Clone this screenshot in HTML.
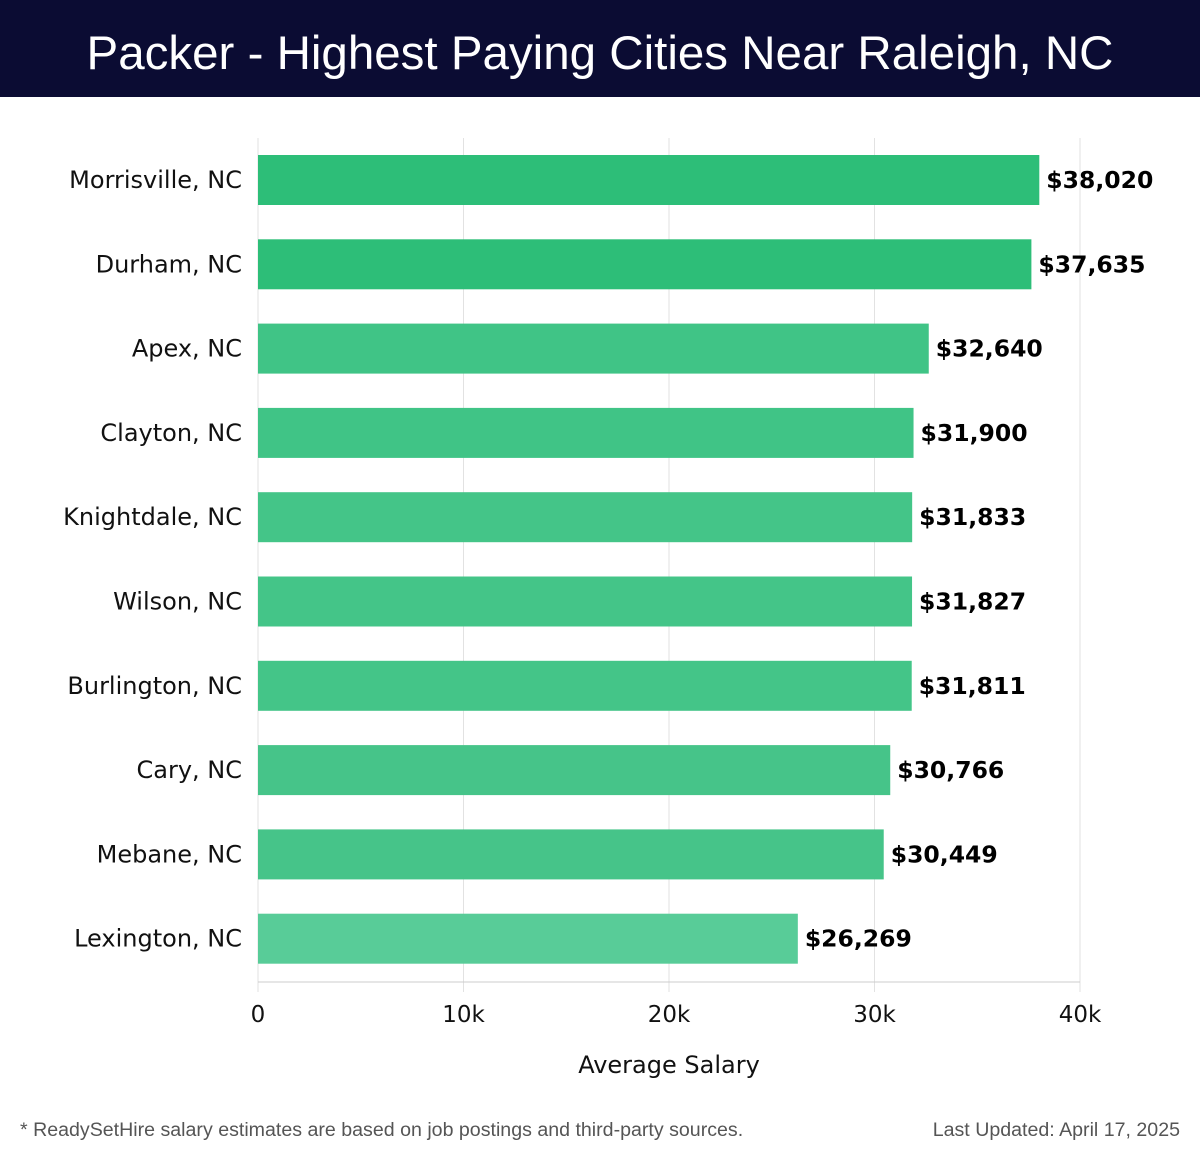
<!DOCTYPE html>
<html><head><meta charset="utf-8"><style>
body{margin:0;width:1200px;height:1158px;background:#fff;font-family:"Liberation Sans","DejaVu Sans",sans-serif;overflow:hidden}
#hdr{position:absolute;left:0;top:0;width:1200px;height:97px;background:#0b0c33;color:#fff;font-size:47.5px;text-align:center;line-height:108px}
.ft{position:absolute;top:1119px;font-size:19.6px;color:#555}
svg text{font-family:"DejaVu Sans",sans-serif}
</style></head><body>
<div id="hdr">Packer - Highest Paying Cities Near Raleigh, NC</div>
<svg id="c" width="1200" height="1100" style="position:absolute;left:0;top:0"></svg>
<div class="ft" style="left:20px">* ReadySetHire salary estimates are based on job postings and third-party sources.</div>
<div class="ft" style="right:20px">Last Updated: April 17, 2025</div>
<script>
const cities=["Morrisville, NC","Durham, NC","Apex, NC","Clayton, NC","Knightdale, NC","Wilson, NC","Burlington, NC","Cary, NC","Mebane, NC","Lexington, NC"];
const salaries=[38020,37635,32640,31900,31833,31827,31811,30766,30449,26269];
const ticks=[0,10000,20000,30000,40000];
const tickLabels=["0","10k","20k","30k","40k"];
const colors=["#2dbe78","#2dbe78","#40c486","#40c486","#44c588","#44c588","#44c588","#46c489","#46c489","#58cc98"];
const NS="http://www.w3.org/2000/svg",svg=document.getElementById('c');
const x=v=>258+v*(1080-258)/40000;
const top0=138,step=84.3,bh=50;
const y=i=>top0+17+i*step;
function mk(t,a,txt){const e=document.createElementNS(NS,t);for(const k in a)e.setAttribute(k,a[k]);if(txt!==undefined)e.textContent=txt;svg.appendChild(e);return e;}
ticks.forEach((t,i)=>{
 const g=mk('line',{x1:x(t),x2:x(t),y1:top0,y2:992,stroke:'#e2e2e2','stroke-width':1});
 
 
 const l=mk('text',{x:x(t),y:1022,'text-anchor':'middle','font-size':23,fill:'#111'},tickLabels[i]);
 
 
});
const ax=mk('line',{x1:258,x2:1080,y1:982,y2:982,stroke:'#ccc'});


salaries.forEach((s,i)=>{
 const r=mk('rect',{x:x(0),y:y(i),width:x(s)-x(0),height:bh,fill:colors[i]});
 
 
 const c=mk('text',{x:242,y:y(i)+bh/2+8,'text-anchor':'end','font-size':24,fill:'#111'},cities[i]);
 
 
 const v=mk('text',{x:x(s)+7,y:y(i)+bh/2+8,'font-size':23.5,'font-weight':'bold',fill:'#000'},'$'+s.toLocaleString('en-US'));
 
 
});
const at=mk('text',{x:669,y:1073,'text-anchor':'middle','font-size':24,fill:'#111'},'Average Salary');


</script>
</body></html>
